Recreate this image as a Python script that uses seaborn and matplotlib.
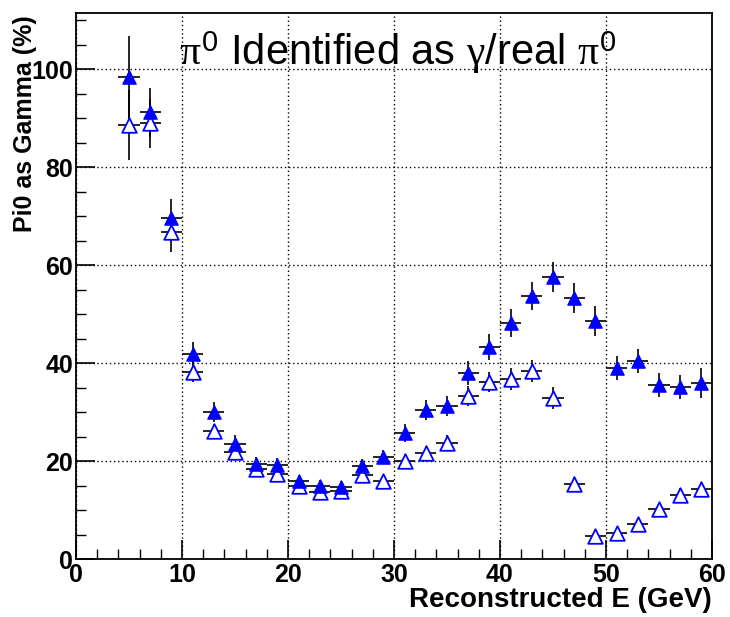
import numpy as np
import pandas as pd
import seaborn as sns
import matplotlib
matplotlib.use("Agg")
import matplotlib.pyplot as plt
from matplotlib.ticker import MultipleLocator

energy = [5, 7, 9, 11, 13, 15, 17, 19, 21, 23, 25, 27, 29, 31, 33, 35, 37, 39,
          41, 43, 45, 47, 49, 51, 53, 55, 57, 59]
filled_vals = [98.4, 91.2, 69.6, 41.8, 30.0, 23.5, 19.4, 19.2, 15.9, 14.9, 14.7, 19.0,
               20.8, 25.7, 30.4, 31.2, 38.0, 43.3, 48.2, 53.7, 57.6, 53.3, 48.6, 39.0,
               40.4, 35.5, 35.1, 35.9]
filled_err = [8.3, 5.0, 3.9, 2.5, 2.0, 1.8, 1.5, 1.5, 1.3, 1.3, 1.3, 1.5,
              1.5, 1.8, 2.0, 2.0, 2.5, 2.6, 2.8, 2.8, 3.0, 3.0, 3.0, 2.5,
              2.5, 2.5, 2.5, 3.0]
open_vals = [88.6, 89.0, 66.7, 38.2, 26.1, 21.8, 18.4, 17.3, 14.9, 13.7, 13.9, 17.1,
             15.9, 20.0, 21.6, 23.7, 33.3, 36.1, 36.7, 38.4, 32.9, 15.3, 4.7, 5.3,
             7.1, 10.2, 13.1, 14.3]
open_err = [7.2, 5.0, 4.0, 2.0, 1.5, 1.3, 1.2, 1.2, 1.0, 1.0, 1.0, 1.2,
            1.2, 1.5, 1.5, 1.6, 2.0, 2.1, 2.2, 2.3, 2.2, 1.5, 0.8, 0.9,
            1.0, 1.2, 1.4, 1.5]
bin_half_width = 1.0

title_text = r"$\pi^{\mathsf{0}}$ Identified as $\gamma$/real $\pi^{\mathsf{0}}$"
xlabel_text = "Reconstructed E (GeV)"
ylabel_text = "Pi0 as Gamma (%)"

df_f = pd.DataFrame({"E": energy, "val": filled_vals, "err": filled_err})
df_o = pd.DataFrame({"E": energy, "val": open_vals, "err": open_err})

sns.set_style("white")
plt.rcParams["font.family"] = ["Liberation Sans", "DejaVu Sans"]
plt.rcParams["text.color"] = "black"
plt.rcParams["axes.labelcolor"] = "black"
plt.rcParams["xtick.color"] = "black"
plt.rcParams["ytick.color"] = "black"
plt.rcParams["mathtext.fontset"] = "custom"
plt.rcParams["mathtext.rm"] = "Liberation Serif"
plt.rcParams["mathtext.it"] = "Liberation Serif"
plt.rcParams["mathtext.sf"] = "Liberation Sans"

fig = plt.figure(figsize=(7.3, 6.17), dpi=100)
ax = fig.add_axes([0.1041, 0.094, 0.8712, 0.885])

for d in (df_o, df_f):
    ax.errorbar(d["E"], d["val"], xerr=bin_half_width, yerr=d["err"], fmt="none",
                ecolor="black", elinewidth=1.2, capsize=0, zorder=2)

sns.scatterplot(data=df_o, x="E", y="val", marker="^", s=110, facecolor="white",
                edgecolor="#0000ff", linewidth=1.3, ax=ax, zorder=3)
sns.scatterplot(data=df_f, x="E", y="val", marker="^", s=90, color="#0000ff",
                edgecolor="#0000ff", linewidth=1.0, ax=ax, zorder=4)

ax.set_xlim(0, 60)
ax.set_ylim(0, 111.5)
ax.xaxis.set_major_locator(MultipleLocator(10))
ax.xaxis.set_minor_locator(MultipleLocator(2))
ax.yaxis.set_major_locator(MultipleLocator(20))
ax.yaxis.set_minor_locator(MultipleLocator(5))
ax.tick_params(axis="both", which="major", direction="in", length=14, width=1.2,
               labelsize=18, top=False, right=False, bottom=True, left=True)
ax.tick_params(axis="both", which="minor", direction="in", length=7, width=1.0,
               top=False, right=False, bottom=True, left=True)
for lab in ax.get_xticklabels() + ax.get_yticklabels():
    lab.set_fontweight("bold")
ax.tick_params(axis="x", pad=3)
ax.tick_params(axis="y", pad=2)

ax.grid(True, which="major", linestyle=(0, (1, 2)), color="black", linewidth=1.0)
ax.set_axisbelow(True)
for sp in ax.spines.values():
    sp.set_color("black")
    sp.set_linewidth(1.3)

ax.set_xlabel(xlabel_text, fontsize=20, fontweight="bold", loc="right", labelpad=0)
ax.set_ylabel(ylabel_text, fontsize=18, fontweight="bold", loc="top")
ax.yaxis.set_label_coords(-0.062, 0.995)
ax.text(0.506, 0.905, title_text, transform=ax.transAxes, ha="center", va="baseline",
        fontsize=30, color="black")

fig.savefig("out.png", dpi=100)
